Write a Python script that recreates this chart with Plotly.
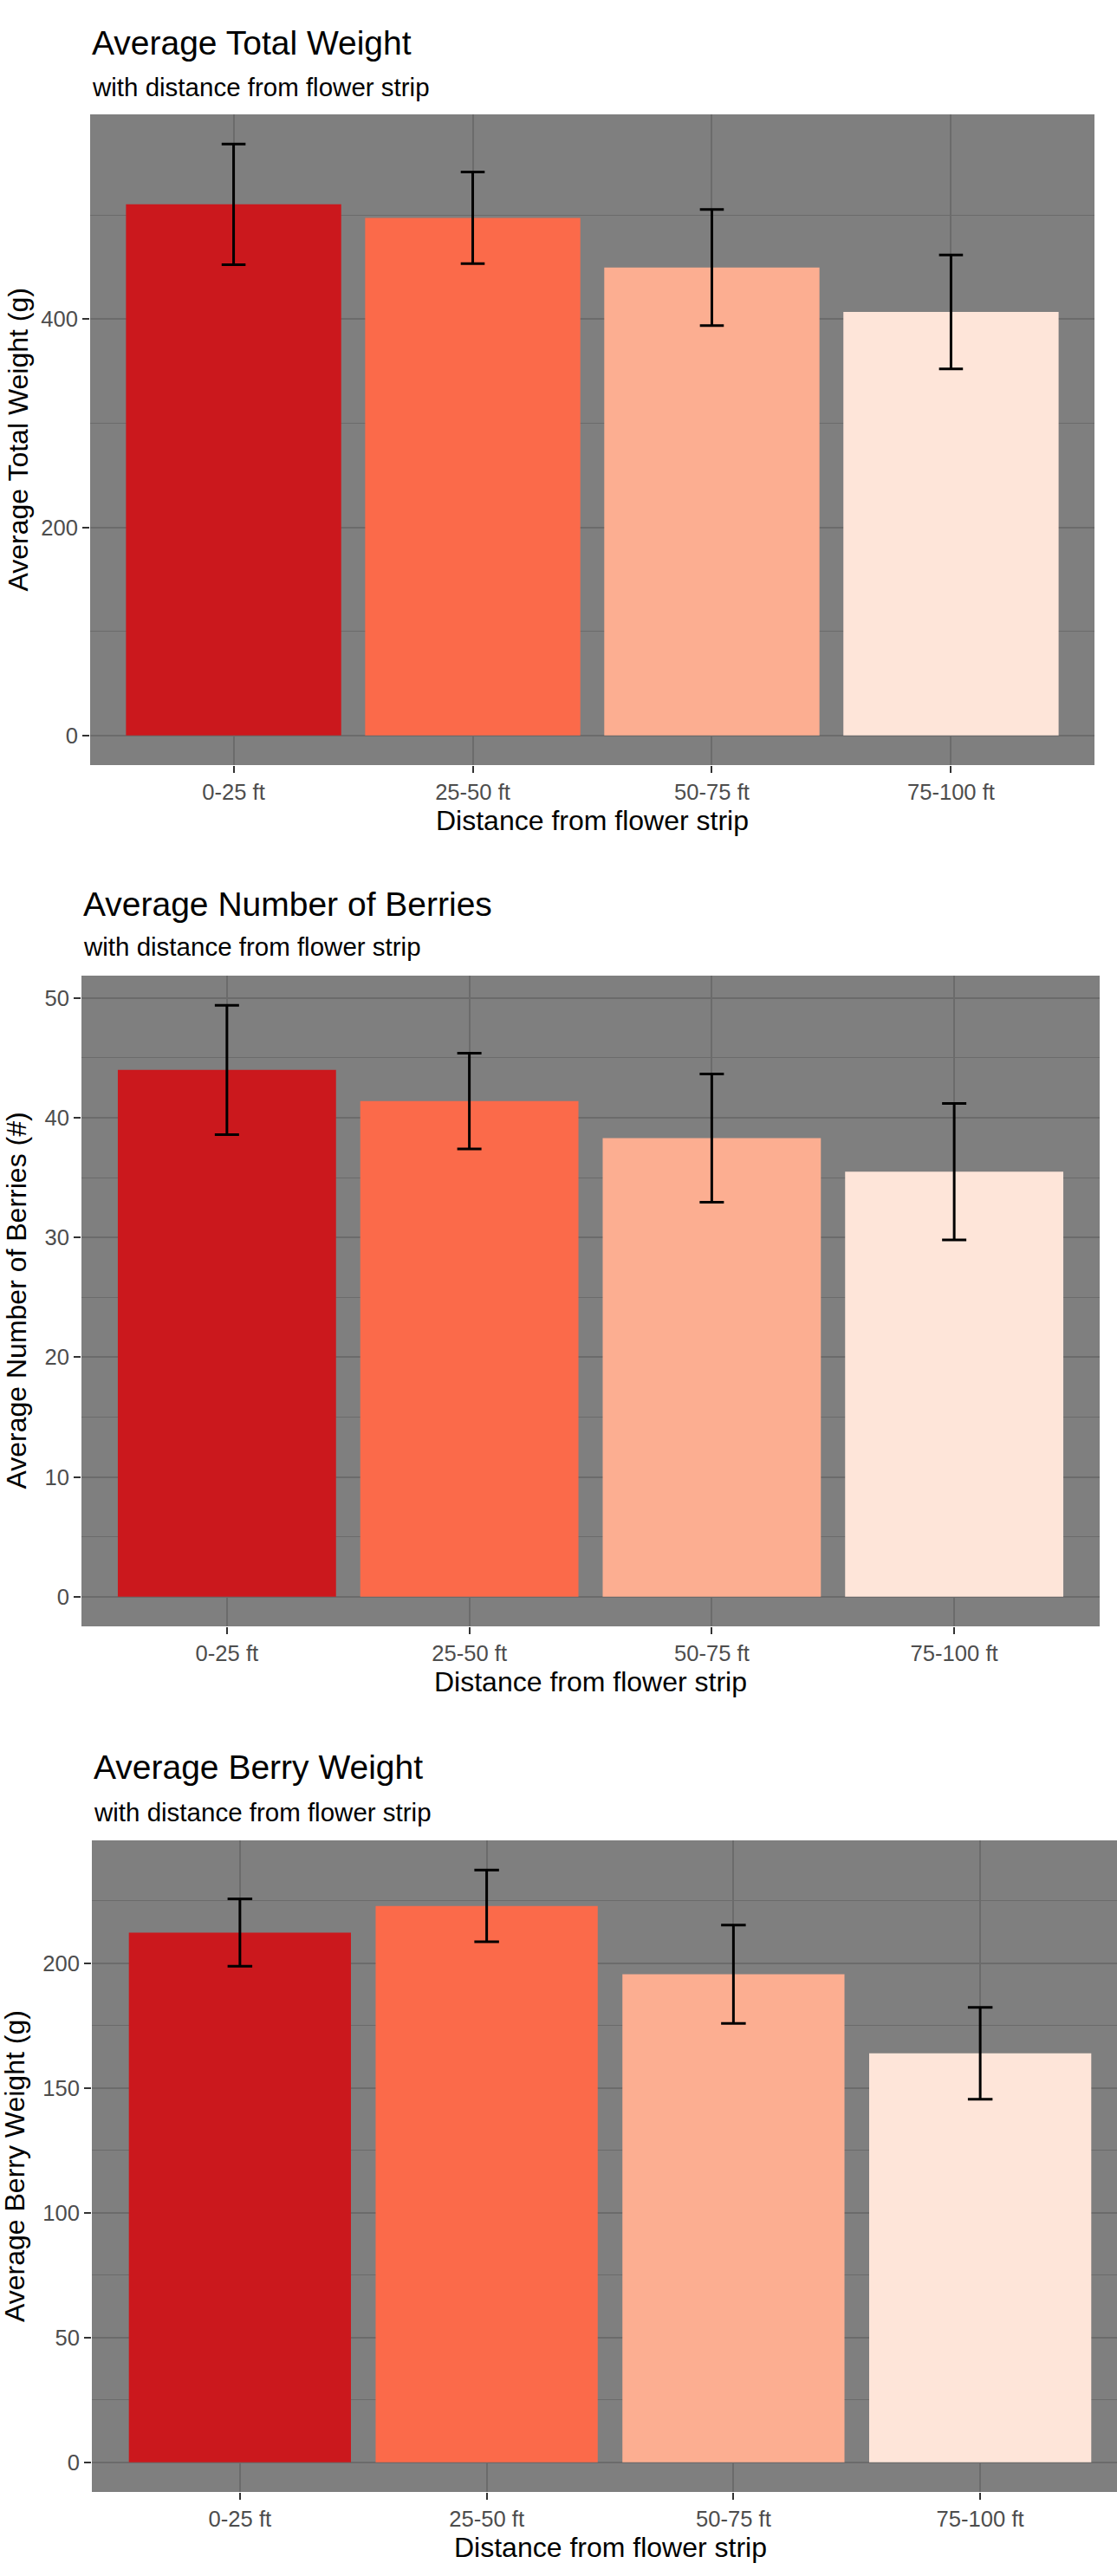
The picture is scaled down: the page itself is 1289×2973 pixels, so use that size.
import plotly.graph_objects as go

# ---------------- data ----------------
categories = ["0-25 ft", "25-50 ft", "50-75 ft", "75-100 ft"]
bar_colors = ["#CB181D", "#FB6A4A", "#FCAE91", "#FEE5D9"]

total_weight = [510.5, 497.5, 449.7, 407.1]
total_weight_err = [58.0, 44.0, 55.8, 54.7]

num_berries = [44.0, 41.4, 38.3, 35.5]
num_berries_err = [5.4, 4.0, 5.35, 5.7]

berry_weight = [212.3, 223.0, 195.6, 163.9]
berry_weight_err = [13.5, 14.4, 19.7, 18.4]

titles = ["Average Total Weight", "Average Number of Berries", "Average Berry Weight"]
subtitle = "with distance from flower strip"
y_titles = ["Average Total Weight (g)", "Average Number of Berries (#)", "Average Berry Weight (g)"]
x_title = "Distance from flower strip"
y_dticks = [200, 10, 50]

# ---------------- layout geometry (pixels) ----------------
W, H = 1289, 2973
# panel boxes: left, right, top, bottom (px); right of panel 3 extends past the page
panels = [
    (104, 1263, 132, 883),
    (94, 1269, 1126, 1877),
    (106, 1302, 2124, 2876),
]
title_baseline_gap = [69, 69, 71]
subtitle_baseline_gap = [21, 23, 22]
ytitle_x = [21, 19, 17]

FONT = "Liberation Sans, Arial, Helvetica, sans-serif"
GRID = "#6B6B6B"
TITLE_SIZE = 39
SUB_SIZE = 29.5
AX_SIZE = 32

fig = go.Figure()
series = [(total_weight, total_weight_err), (num_berries, num_berries_err), (berry_weight, berry_weight_err)]
xpos = list(range(len(categories)))

annotations = []
for i, ((vals, errs), (l, r, t, b)) in enumerate(zip(series, panels)):
    n = i + 1
    xa = "x" if n == 1 else f"x{n}"
    ya = "y" if n == 1 else f"y{n}"
    spacing = (r - l) / 4.2
    fig.add_trace(go.Bar(
        x=xpos, y=vals, width=0.9,
        marker=dict(color=bar_colors, line=dict(width=0)),
        error_y=dict(type="data", array=errs, color="black", thickness=3, width=0.05 * spacing),
        xaxis=xa, yaxis=ya, showlegend=False, hoverinfo="skip",
    ))
    top = max(v + e for v, e in zip(vals, errs))
    yr = [-0.05 * top, 1.05 * top]
    xr_right = -0.6 + (min(r, W) - l) / spacing
    xd = [l / W, min(r, W) / W]
    yd = [1 - b / H, 1 - t / H]
    axis_common = dict(
        showgrid=True, gridcolor=GRID, gridwidth=2,
        ticks="outside", ticklen=8, tickwidth=2, tickcolor="#333333",
        tickfont=dict(family=FONT, size=25.6, color="#4D4D4D"),
        showline=False, zeroline=False, fixedrange=True,
    )
    xkey = "xaxis" if n == 1 else f"xaxis{n}"
    ykey = "yaxis" if n == 1 else f"yaxis{n}"
    fig.update_layout(**{
        xkey: dict(domain=xd, range=[-0.6, xr_right], anchor=ya,
                   tickmode="array", tickvals=xpos, ticktext=categories, **axis_common),
        ykey: dict(domain=yd, range=yr, anchor=xa, dtick=y_dticks[i], tick0=0,
                   minor=dict(dtick=y_dticks[i] / 2, showgrid=True, gridcolor=GRID, gridwidth=1.2),
                   **axis_common),
    })
    # title & subtitle
    annotations.append(dict(text=titles[i], x=l / W, xanchor="left",
                            y=1 - (t - title_baseline_gap[i] - 0.3465 * TITLE_SIZE) / H,
                            yanchor="middle", xref="paper", yref="paper", showarrow=False,
                            font=dict(family=FONT, size=TITLE_SIZE, color="black")))
    annotations.append(dict(text=subtitle, x=l / W, xanchor="left",
                            y=1 - (t - subtitle_baseline_gap[i] - 0.3465 * SUB_SIZE) / H,
                            yanchor="middle", xref="paper", yref="paper", showarrow=False,
                            font=dict(family=FONT, size=SUB_SIZE, color="black")))
    # axis titles
    annotations.append(dict(text=x_title, x=(l + r) / 2 / W, xanchor="center", y=1 - (b + 64) / H,
                            yanchor="middle", xref="paper", yref="paper", showarrow=False,
                            font=dict(family=FONT, size=AX_SIZE, color="black")))
    annotations.append(dict(text=y_titles[i], x=ytitle_x[i] / W, xanchor="center", y=1 - (t + b) / 2 / H,
                            yanchor="middle", xref="paper", yref="paper", showarrow=False, textangle=-90,
                            font=dict(family=FONT, size=AX_SIZE, color="black")))

fig.update_layout(
    width=W, height=H, autosize=False,
    margin=dict(l=0, r=0, t=0, b=0, pad=0),
    paper_bgcolor="white", plot_bgcolor="#7F7F7F",
    annotations=annotations,
    font=dict(family=FONT),
)

fig.write_html("out.html", config={"displayModeBar": False},
               post_script="document.body.style.margin='0';")
